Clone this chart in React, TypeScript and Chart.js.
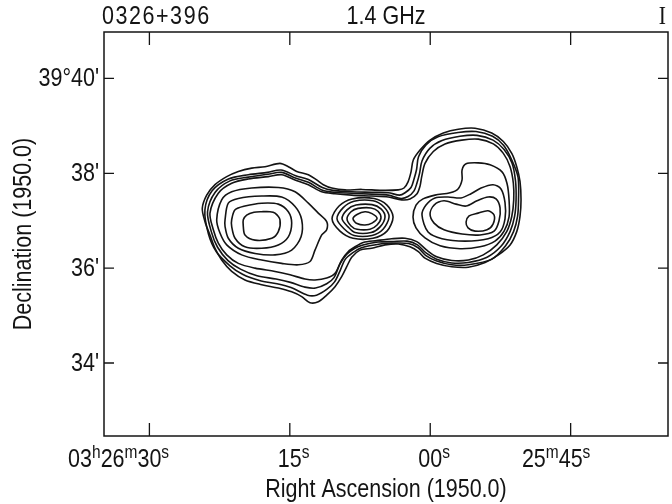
import React, { useEffect, useRef } from "react";
import { Chart, registerables } from "chart.js";

Chart.register(...registerables);

// RA: seconds of time past 03h26m00s (1950.0), negative = 03h25m..; Dec: arcmin past +39°00'
const raTickValues = [30, 15, 0, -15];
const raTickLabels: [string, boolean][][] = [
  [["03", false], ["h", true], ["26", false], ["m", true], ["30", false], ["s", true]],
  [["15", false], ["s", true]],
  [["00", false], ["s", true]],
  [["25", false], ["m", true], ["45", false], ["s", true]],
];
const decTickValues = [40, 38, 36, 34];
const decTickLabels = ["39°40'", "38'", "36'", "34'"];
const raLimits = [-25.4, 34.85];
const decLimits = [32.46, 40.98];

const sourceName = "0326+396";
const frequencyLabel = "1.4 GHz";
const stokesLabel = "I";
const xTitle = "Right Ascension (1950.0)";
const yTitle = "Declination (1950.0)";

// Contours: [RA s, Dec ']
const envelope1 = [[24.35,37.26],[23.88,37.54],[22.99,37.76],[21.74,37.93],[20.50,38.04],[19.07,38.11],[17.65,38.14],[16.05,38.21],[15.16,38.14],[14.26,38.04],[13.02,37.97],[12.13,37.86],[11.42,37.76],[10.52,37.69],[9.10,37.65],[7.32,37.66],[5.18,37.64],[3.41,37.65],[2.80,37.69],[2.37,37.82],[2.05,38.03],[1.81,38.28],[1.09,38.49],[0.02,38.70],[-1.40,38.85],[-3.00,38.93],[-4.79,38.95],[-6.57,38.85],[-7.81,38.67],[-8.71,38.42],[-9.24,38.14],[-9.59,37.83],[-9.70,37.44],[-9.59,37.09],[-9.24,36.77],[-8.53,36.49],[-7.28,36.28],[-5.86,36.12],[-4.07,36.02],[-2.30,36.03],[-0.69,36.10],[0.56,36.21],[1.27,36.35],[2.16,36.45],[3.41,36.51],[4.83,36.49],[6.25,36.42],[7.50,36.38],[8.39,36.23],[8.92,36.03],[9.46,35.82],[10.17,35.61],[11.06,35.43],[11.96,35.29],[12.84,35.27],[13.73,35.40],[14.80,35.50],[16.23,35.58],[18.00,35.65],[19.79,35.75],[21.21,35.93],[22.28,36.17],[22.99,36.42],[23.53,36.70],[24.06,36.98]];
const envelope2 = [[24.07,37.23],[23.30,37.63],[21.56,37.88],[19.43,37.97],[17.38,38.02],[15.94,38.07],[14.37,37.95],[13.02,37.87],[11.53,37.70],[10.38,37.64],[8.39,37.61],[6.25,37.60],[4.48,37.59],[3.28,37.54],[2.69,37.59],[2.05,37.70],[1.73,37.88],[1.46,38.08],[1.25,38.35],[0.45,38.60],[-0.83,38.77],[-2.97,38.86],[-4.89,38.88],[-6.66,38.78],[-7.83,38.59],[-8.69,38.29],[-9.38,37.92],[-9.43,37.44],[-9.33,37.09],[-8.90,36.77],[-8.05,36.47],[-6.60,36.19],[-4.07,36.07],[-2.30,36.07],[-0.69,36.15],[0.50,36.27],[1.30,36.43],[2.32,36.52],[3.76,36.53],[5.36,36.51],[7.34,36.43],[8.30,36.32],[9.10,36.18],[9.58,35.97],[10.22,35.71],[11.06,35.55],[12.15,35.43],[13.11,35.43],[14.87,35.59],[16.37,35.67],[18.24,35.74],[20.05,35.87],[21.39,36.05],[22.83,36.34],[23.69,36.72]];
const envelope3 = [[23.79,37.19],[22.97,37.60],[21.39,37.84],[19.43,37.92],[17.33,37.98],[15.89,38.02],[14.41,37.90],[13.02,37.81],[11.58,37.65],[10.28,37.60],[8.39,37.58],[6.25,37.56],[4.48,37.54],[3.12,37.47],[2.37,37.51],[1.73,37.63],[1.41,37.80],[1.14,38.00],[0.88,38.26],[0.02,38.53],[-1.26,38.69],[-3.18,38.78],[-5.00,38.80],[-6.71,38.70],[-7.89,38.50],[-8.74,38.21],[-9.11,37.84],[-9.17,37.44],[-9.01,37.09],[-8.53,36.77],[-7.56,36.46],[-6.07,36.23],[-4.07,36.12],[-2.30,36.11],[-0.69,36.19],[0.45,36.32],[1.36,36.49],[2.48,36.57],[4.08,36.56],[5.58,36.55],[7.18,36.49],[8.14,36.41],[8.94,36.29],[9.64,36.09],[10.28,35.80],[11.06,35.67],[12.25,35.58],[13.38,35.60],[14.93,35.70],[16.47,35.77],[18.50,35.84],[20.27,35.98],[21.60,36.16],[22.72,36.44],[23.37,36.76]];
const envelope4 = [[23.53,37.16],[22.64,37.58],[21.21,37.79],[19.43,37.88],[17.30,37.93],[15.87,37.97],[14.44,37.86],[13.02,37.76],[11.59,37.61],[10.17,37.57],[8.39,37.54],[6.25,37.52],[4.48,37.50],[3.04,37.44],[2.16,37.46],[1.41,37.57],[1.09,37.73],[0.91,37.93],[0.56,38.21],[-0.33,38.46],[-1.58,38.62],[-3.37,38.70],[-5.14,38.72],[-6.74,38.62],[-7.81,38.42],[-8.53,38.14],[-8.88,37.79],[-8.92,37.44],[-8.71,37.09],[-8.17,36.77],[-7.11,36.49],[-5.67,36.28],[-4.07,36.17],[-2.30,36.16],[-0.69,36.24],[0.37,36.38],[1.44,36.56],[2.69,36.63],[4.11,36.62],[5.72,36.58],[7.15,36.54],[8.03,36.45],[8.75,36.35],[9.46,36.17],[10.17,35.89],[11.06,35.79],[12.31,35.75],[13.38,35.77],[14.98,35.86],[16.58,35.93],[18.72,36.00],[20.50,36.10],[21.74,36.28],[22.64,36.53],[23.17,36.81]];

const leftLobe5 = [[22.81,37.02],[22.28,37.44],[21.21,37.61],[19.07,37.69],[16.23,37.70],[14.44,37.61],[13.02,37.37],[11.96,37.16],[11.06,36.98],[11.06,36.81],[11.59,36.70],[12.31,36.38],[12.84,36.14],[14.09,36.07],[15.87,36.10],[18.00,36.17],[20.14,36.28],[21.74,36.49],[22.46,36.74]];
const leftLobe6 = [[21.92,37.02],[21.57,37.37],[20.50,37.47],[18.00,37.52],[15.87,37.50],[14.44,37.30],[13.73,37.02],[13.80,36.66],[14.80,36.38],[16.58,36.28],[18.72,36.31],[20.50,36.42],[21.57,36.63],[21.92,36.88]];
const leftLobe7 = [[21.21,37.02],[20.85,37.23],[19.79,37.31],[18.00,37.37],[16.23,37.35],[15.16,37.19],[14.80,36.95],[15.16,36.66],[16.23,36.49],[18.00,36.42],[19.79,36.45],[20.85,36.63],[21.21,36.88]];
const leftLobe8 = [[19.97,37.02],[19.61,37.12],[18.83,37.18],[18.00,37.19],[17.12,37.19],[16.58,37.16],[16.05,37.02],[16.23,36.77],[16.93,36.63],[18.72,36.59],[19.79,36.70],[19.97,36.88]];

const core5 = [[10.49,37.04],[9.74,37.31],[8.35,37.46],[6.00,37.47],[4.62,37.33],[3.97,37.08],[4.62,36.78],[6.11,36.63],[8.25,36.63],[9.64,36.78]];
const core6 = [[9.96,37.04],[9.32,37.27],[8.14,37.41],[6.11,37.42],[4.94,37.29],[4.40,37.08],[5.04,36.82],[6.22,36.69],[8.14,36.69],[9.21,36.83]];
const core7 = [[9.42,37.04],[8.89,37.23],[7.93,37.33],[6.22,37.34],[5.26,37.25],[4.83,37.08],[5.36,36.87],[6.32,36.75],[8.03,36.75],[8.78,36.87]];
const core8 = [[8.89,37.04],[8.46,37.19],[7.71,37.26],[6.32,37.27],[5.58,37.20],[5.26,37.06],[5.68,36.91],[6.43,36.82],[7.82,36.82],[8.46,36.89]];
const core9 = [[8.25,37.04],[7.82,37.13],[6.97,37.19],[6.22,37.15],[5.68,37.05],[6.22,36.95],[6.97,36.91],[7.82,36.94]];

const rightLobe5 = [[1.84,37.08],[1.52,37.33],[0.77,37.46],[-0.51,37.54],[-2.12,37.59],[-2.97,37.67],[-3.40,37.86],[-3.40,38.07],[-3.83,38.20],[-5.11,38.22],[-6.39,38.18],[-7.67,38.03],[-8.21,37.78],[-8.42,37.44],[-8.42,37.08],[-7.89,36.78],[-6.92,36.57],[-5.32,36.45],[-3.18,36.41],[-1.05,36.47],[0.56,36.64],[1.52,36.85]];
const rightLobe6 = [[0.88,37.12],[0.45,37.33],[-0.51,37.48],[-1.90,37.50],[-3.29,37.48],[-4.36,37.57],[-5.43,37.69],[-6.71,37.76],[-7.56,37.67],[-7.99,37.38],[-7.99,37.04],[-7.46,36.76],[-6.18,36.62],[-3.72,36.57],[-1.26,36.62],[0.23,36.76]];
const rightLobe7 = [[0.02,37.14],[-0.41,37.33],[-1.47,37.42],[-2.76,37.35],[-3.83,37.31],[-5.00,37.42],[-6.18,37.50],[-7.03,37.46],[-7.46,37.27],[-7.35,37.00],[-6.82,36.78],[-5.32,36.70],[-3.40,36.72],[-1.47,36.81],[-0.41,36.95]];
const rightLobe8 = [[-3.83,36.97],[-4.15,37.10],[-5.11,37.16],[-6.18,37.21],[-6.82,37.12],[-6.71,36.93],[-6.07,36.81],[-4.79,36.78],[-4.04,36.85]];

const contours = [
  envelope1, envelope2, envelope3, envelope4,
  leftLobe5, leftLobe6, leftLobe7, leftLobe8,
  core5, core6, core7, core8, core9,
  rightLobe5, rightLobe6, rightLobe7, rightLobe8,
];

const INK = "#141414";
const FONT = '"Liberation Sans", "DejaVu Sans", sans-serif';
const SERIF = '"Liberation Serif", "DejaVu Serif", serif';
const SX = 0.86;
const MAIN = 25;
const SUP = 18;

function drawText(ctx: CanvasRenderingContext2D, text: string, x: number, y: number, size: number, align: CanvasTextAlign = "left", baseline: CanvasTextBaseline = "alphabetic", family = FONT, spacing = "0px") {
  ctx.save();
  ctx.translate(x, y);
  ctx.scale(SX, 1);
  ctx.font = `${size}px ${family}`;
  ctx.textAlign = align;
  ctx.textBaseline = baseline;
  (ctx as any).letterSpacing = spacing;
  ctx.fillText(text, 0, 0);
  ctx.restore();
}

function textWidth(ctx: CanvasRenderingContext2D, text: string, size: number) {
  ctx.save();
  ctx.font = `${size}px ${FONT}`;
  const w = ctx.measureText(text).width * SX;
  ctx.restore();
  return w;
}

const closeContours = {
  id: "closeContours",
  afterDatasetsUpdate(chart: any) {
    chart.data.datasets.forEach((_: any, i: number) => {
      const line = chart.getDatasetMeta(i).dataset;
      if (line) {
        line._loop = true;
        line._fullLoop = true;
        line._pointsUpdated = false;
        line._segments = undefined;
        line._path = undefined;
      }
    });
  },
};

const frameAndLabels = {
  id: "frameAndLabels",
  afterDraw(chart: any) {
    const { ctx, chartArea: a, scales } = chart;
    const xs = scales.x;
    const ys = scales.y;
    ctx.save();
    ctx.strokeStyle = INK;
    ctx.fillStyle = INK;
    ctx.lineWidth = 1.5;
    ctx.strokeRect(a.left, a.top, a.right - a.left, a.bottom - a.top);

    ctx.lineWidth = 1.3;
    ctx.beginPath();
    raTickValues.forEach((v) => {
      const px = xs.getPixelForValue(v);
      ctx.moveTo(px, a.bottom);
      ctx.lineTo(px, a.bottom - 13);
      ctx.moveTo(px, a.top);
      ctx.lineTo(px, a.top + 13);
    });
    decTickValues.forEach((v) => {
      const py = ys.getPixelForValue(v);
      ctx.moveTo(a.left, py);
      ctx.lineTo(a.left + 10, py);
      ctx.moveTo(a.right, py);
      ctx.lineTo(a.right - 10, py);
    });
    ctx.stroke();

    const base = 467;
    raTickValues.forEach((v, i) => {
      const pieces = raTickLabels[i];
      const widths = pieces.map(([t, sup]) => textWidth(ctx, t, sup ? SUP : MAIN));
      const anchor = pieces.length - 2;
      let before = 0;
      for (let k = 0; k < anchor; k++) before += widths[k];
      let x = xs.getPixelForValue(v) - before - widths[anchor] / 2;
      pieces.forEach(([t, sup], k) => {
        drawText(ctx, t, x, sup ? base - 9 : base, sup ? SUP : MAIN);
        x += widths[k];
      });
    });

    decTickValues.forEach((v, i) => {
      drawText(ctx, decTickLabels[i], a.left - 5, ys.getPixelForValue(v) + 1, MAIN, "right", "middle");
    });

    const cx = (a.left + a.right) / 2;
    drawText(ctx, sourceName, a.left - 2, 24, MAIN, "left", "alphabetic", FONT, "1.8px");
    drawText(ctx, frequencyLabel, cx, 24, MAIN, "center");
    drawText(ctx, stokesLabel, a.right - 2, 24, MAIN, "right", "alphabetic", SERIF);
    drawText(ctx, xTitle, cx, 497, MAIN, "center");

    ctx.save();
    ctx.translate(24, (a.top + a.bottom) / 2);
    ctx.rotate(-Math.PI / 2);
    ctx.scale(SX, 1);
    ctx.font = `${MAIN}px ${FONT}`;
    ctx.textAlign = "center";
    ctx.textBaseline = "middle";
    ctx.fillText(yTitle, 0, 0);
    ctx.restore();

    ctx.restore();
  },
};

export default function App() {
  const ref = useRef<HTMLCanvasElement>(null);
  useEffect(() => {
    const canvas = ref.current;
    if (!canvas) return;
    const chart = new Chart(canvas, {
      type: "line",
      data: {
        datasets: contours.map((pts, i) => ({
          label: `contour ${i + 1}`,
          data: pts.map(([x, y]) => ({ x, y })),
          borderColor: INK,
          borderWidth: 1.6,
          pointRadius: 0,
          tension: 0.3,
          fill: false,
        })),
      },
      options: {
        responsive: false,
        animation: false,
        devicePixelRatio: 1,
        events: [],
        layout: { padding: { left: 104, right: 4, top: 32, bottom: 68 } },
        plugins: {
          legend: { display: false },
          tooltip: { enabled: false },
          title: { display: false },
        },
        scales: {
          x: { type: "linear", display: false, reverse: true, min: raLimits[0], max: raLimits[1] },
          y: { type: "linear", display: false, min: decLimits[0], max: decLimits[1] },
        },
      },
      plugins: [closeContours, frameAndLabels],
    } as any);
    return () => chart.destroy();
  }, []);
  return (
    <div style={{ position: "absolute", left: 0, top: 0, width: 672, height: 504, background: "#fff" }}>
      <canvas ref={ref} width={672} height={504} style={{ display: "block", width: 672, height: 504 }} />
    </div>
  );
}
